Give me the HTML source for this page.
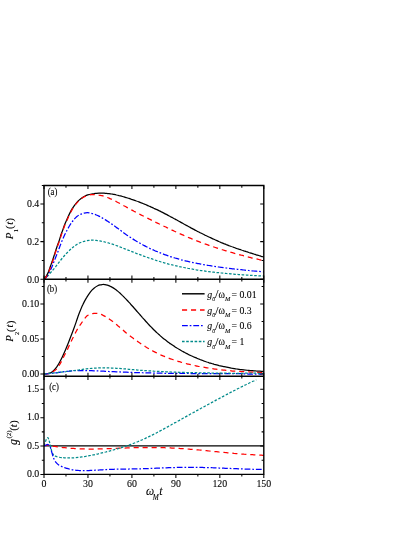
<!DOCTYPE html>
<html><head><meta charset="utf-8"><title>figure</title>
<style>html,body{margin:0;padding:0;background:#fff;}svg{display:block;}text{font-family:"Liberation Serif",serif;fill:#000;stroke:#000;stroke-width:0.1px;}</style></head>
<body><svg width="415" height="537" viewBox="0 0 415 537">
<rect width="415" height="537" fill="#fff"/>
<g style="opacity:0.999">
<defs>
<clipPath id="ca"><rect x="44.0" y="185.5" width="220.4" height="93.7"/></clipPath>
<clipPath id="cb"><rect x="44.0" y="279.2" width="220.4" height="97.1"/></clipPath>
<clipPath id="cc"><rect x="44.0" y="376.3" width="220.4" height="98.1"/></clipPath>
</defs>
<g fill="none" stroke-width="1.25" stroke-linejoin="round">
<path d="M44.0 279.2C44.4 278.9 45.3 278.6 46.4 277.5C47.5 276.4 49.0 274.6 50.6 272.7C52.2 270.8 54.1 268.6 55.9 266.4C57.7 264.2 59.4 261.7 61.2 259.5C63.0 257.3 64.8 255.2 66.5 253.4C68.2 251.6 70.2 249.7 71.5 248.5C72.8 247.3 73.4 246.9 74.5 246.1C75.6 245.3 76.9 244.4 78.1 243.7C79.3 243.0 80.6 242.5 81.8 242.1C83.0 241.7 84.2 241.3 85.4 241.0C86.6 240.7 88.0 240.5 89.0 240.4C90.0 240.3 90.4 240.2 91.2 240.2C92.0 240.2 92.9 240.2 93.7 240.2C94.5 240.3 95.4 240.3 96.2 240.4C97.0 240.5 97.9 240.6 98.7 240.7C99.5 240.9 100.4 241.0 101.2 241.2C102.0 241.3 102.9 241.5 103.7 241.7C104.5 241.9 105.4 242.1 106.2 242.3C107.0 242.5 107.9 242.8 108.7 243.0C109.5 243.3 110.4 243.5 111.2 243.8C112.0 244.1 112.9 244.3 113.7 244.6C114.5 244.9 115.4 245.2 116.2 245.5C117.0 245.8 117.9 246.1 118.7 246.4C119.5 246.8 120.4 247.1 121.2 247.4C122.1 247.7 122.9 248.1 123.7 248.4C124.6 248.7 125.4 249.0 126.2 249.4C127.1 249.7 127.9 250.0 128.7 250.3C129.6 250.7 130.4 251.0 131.2 251.3C132.1 251.6 132.9 252.0 133.7 252.3C134.6 252.6 135.4 252.9 136.2 253.3C137.1 253.6 137.9 253.9 138.7 254.2C139.6 254.5 140.4 254.8 141.2 255.1C142.1 255.5 142.9 255.8 143.7 256.1C144.6 256.4 145.4 256.7 146.2 257.0C147.1 257.3 147.9 257.6 148.7 257.9C149.6 258.2 150.4 258.5 151.2 258.7C152.1 259.0 152.9 259.3 153.7 259.6C154.6 259.9 155.4 260.1 156.2 260.4C157.1 260.7 157.9 260.9 158.7 261.2C159.6 261.4 160.4 261.7 161.2 262.0C162.1 262.2 162.9 262.4 163.7 262.7C164.6 262.9 165.4 263.2 166.2 263.4C167.1 263.6 167.9 263.8 168.7 264.1C169.6 264.3 170.4 264.5 171.2 264.7C172.1 264.9 172.9 265.1 173.7 265.3C174.6 265.5 175.4 265.7 176.2 265.9C177.1 266.1 177.9 266.3 178.8 266.5C179.6 266.6 180.4 266.8 181.3 267.0C182.1 267.2 182.9 267.4 183.8 267.5C184.6 267.7 185.4 267.9 186.3 268.0C187.1 268.2 187.9 268.3 188.8 268.5C189.6 268.6 190.4 268.8 191.3 268.9C192.1 269.1 192.9 269.2 193.8 269.4C194.6 269.5 195.4 269.6 196.3 269.8C197.1 269.9 197.9 270.0 198.8 270.2C199.6 270.3 200.4 270.4 201.3 270.6C202.1 270.7 202.9 270.8 203.8 270.9C204.6 271.0 205.4 271.1 206.3 271.3C207.1 271.4 207.9 271.5 208.8 271.6C209.6 271.7 210.4 271.8 211.3 271.9C212.1 272.0 212.9 272.1 213.8 272.2C214.6 272.3 215.4 272.4 216.3 272.5C217.1 272.6 217.9 272.7 218.8 272.7C219.6 272.8 220.4 272.9 221.3 273.0C222.1 273.1 222.9 273.2 223.8 273.3C224.6 273.3 225.4 273.4 226.3 273.5C227.1 273.6 227.9 273.6 228.8 273.7C229.6 273.8 230.4 273.9 231.3 273.9C232.1 274.0 232.9 274.1 233.8 274.1C234.6 274.2 235.5 274.3 236.3 274.3C237.1 274.4 238.0 274.5 238.8 274.5C239.6 274.6 240.5 274.7 241.3 274.7C242.1 274.8 243.0 274.8 243.8 274.9C244.6 274.9 245.5 275.0 246.3 275.0C247.1 275.1 248.0 275.2 248.8 275.2C249.6 275.3 250.5 275.3 251.3 275.4C252.1 275.4 253.0 275.4 253.8 275.5C254.6 275.5 255.5 275.6 256.3 275.6C257.1 275.7 258.0 275.7 258.8 275.8C259.6 275.8 260.5 275.8 261.3 275.9C262.1 275.9 263.4 276.0 263.8 276.0" stroke="#008b8b" stroke-dasharray="2.6 1.6" clip-path="url(#ca)"/>
<path d="M44.0 279.2C44.4 278.8 45.5 278.2 46.4 277.0C47.3 275.8 48.6 273.3 49.5 271.7C50.4 270.1 51.0 269.0 51.7 267.4C52.4 265.8 53.1 263.9 53.8 262.1C54.5 260.3 55.2 258.6 55.9 256.8C56.6 255.0 57.3 253.3 58.0 251.5C58.7 249.7 59.3 247.9 60.0 246.0C60.7 244.1 61.6 241.9 62.4 240.0C63.2 238.1 64.0 236.3 64.8 234.6C65.6 232.9 66.5 231.3 67.3 229.8C68.1 228.3 68.9 226.8 69.7 225.5C70.5 224.2 71.3 223.0 72.1 221.9C72.9 220.8 73.7 219.8 74.5 218.9C75.3 218.0 76.1 217.2 76.9 216.5C77.7 215.8 78.6 215.3 79.4 214.9C80.2 214.5 81.0 214.1 81.8 213.8C82.6 213.5 83.3 213.3 84.2 213.1C85.1 212.9 86.2 212.7 87.2 212.7C88.2 212.7 89.1 212.9 90.2 213.1C91.3 213.3 92.9 213.7 93.9 214.0C94.9 214.3 95.6 214.6 96.4 215.0C97.2 215.3 98.1 215.7 98.9 216.1C99.7 216.6 100.6 217.0 101.4 217.5C102.2 217.9 103.1 218.4 103.9 218.9C104.7 219.4 105.6 219.9 106.4 220.4C107.2 221.0 108.1 221.5 108.9 222.1C109.7 222.6 110.6 223.2 111.4 223.8C112.2 224.4 113.1 225.0 113.9 225.6C114.7 226.2 115.6 226.8 116.4 227.4C117.2 228.0 118.1 228.6 118.9 229.2C119.7 229.8 120.6 230.5 121.4 231.1C122.2 231.7 123.0 232.3 123.9 232.9C124.7 233.5 125.5 234.1 126.4 234.7C127.2 235.2 128.0 235.8 128.9 236.4C129.7 236.9 130.5 237.5 131.4 238.0C132.2 238.6 133.0 239.1 133.9 239.6C134.7 240.1 135.5 240.7 136.4 241.2C137.2 241.7 138.0 242.1 138.9 242.6C139.7 243.1 140.5 243.6 141.4 244.0C142.2 244.5 143.0 244.9 143.9 245.4C144.7 245.8 145.5 246.3 146.4 246.7C147.2 247.1 148.0 247.5 148.9 247.9C149.7 248.3 150.5 248.7 151.4 249.1C152.2 249.5 153.0 249.9 153.9 250.2C154.7 250.6 155.5 251.0 156.4 251.3C157.2 251.7 158.0 252.0 158.9 252.4C159.7 252.7 160.5 253.0 161.4 253.4C162.2 253.7 163.0 254.0 163.9 254.3C164.7 254.6 165.5 254.9 166.4 255.2C167.2 255.5 168.0 255.8 168.9 256.1C169.7 256.4 170.5 256.6 171.4 256.9C172.2 257.2 173.0 257.4 173.9 257.7C174.7 257.9 175.5 258.2 176.4 258.4C177.2 258.7 178.0 258.9 178.9 259.1C179.7 259.4 180.5 259.6 181.3 259.8C182.2 260.0 183.0 260.2 183.8 260.4C184.7 260.7 185.5 260.9 186.3 261.1C187.2 261.3 188.0 261.5 188.8 261.6C189.7 261.8 190.5 262.0 191.3 262.2C192.2 262.4 193.0 262.6 193.8 262.7C194.7 262.9 195.5 263.1 196.3 263.2C197.2 263.4 198.0 263.6 198.8 263.7C199.7 263.9 200.5 264.0 201.3 264.2C202.2 264.4 203.0 264.5 203.8 264.6C204.7 264.8 205.5 264.9 206.3 265.1C207.2 265.2 208.0 265.4 208.8 265.5C209.7 265.6 210.5 265.8 211.3 265.9C212.2 266.0 213.0 266.1 213.8 266.3C214.7 266.4 215.5 266.5 216.3 266.6C217.2 266.7 218.0 266.9 218.8 267.0C219.7 267.1 220.5 267.2 221.3 267.3C222.2 267.4 223.0 267.5 223.8 267.6C224.7 267.8 225.5 267.9 226.3 268.0C227.2 268.1 228.0 268.2 228.8 268.3C229.7 268.4 230.5 268.5 231.3 268.6C232.2 268.7 233.0 268.8 233.8 268.9C234.7 269.0 235.5 269.1 236.3 269.2C237.1 269.3 238.0 269.4 238.8 269.5C239.6 269.6 240.5 269.7 241.3 269.7C242.1 269.8 243.0 269.9 243.8 270.0C244.6 270.1 245.5 270.2 246.3 270.3C247.1 270.4 248.0 270.4 248.8 270.5C249.6 270.6 250.5 270.7 251.3 270.8C252.1 270.8 253.0 270.9 253.8 271.0C254.6 271.1 255.5 271.1 256.3 271.2C257.1 271.3 258.0 271.4 258.8 271.4C259.6 271.5 260.5 271.6 261.3 271.6C262.1 271.7 263.4 271.8 263.8 271.8" stroke="#0000ff" stroke-dasharray="5.8 1.9 1.7 1.9" clip-path="url(#ca)"/>
<path d="M44.0 279.2C44.4 278.6 45.6 277.1 46.4 275.9C47.1 274.6 47.8 273.4 48.5 271.7C49.2 270.0 49.9 267.8 50.6 265.8C51.3 263.9 52.0 262.1 52.7 260.0C53.4 257.9 54.2 255.3 54.9 253.1C55.6 250.9 56.3 248.7 57.0 246.7C57.7 244.7 58.5 242.7 59.1 240.9C59.7 239.1 60.1 237.7 60.6 236.0C61.1 234.3 61.7 232.9 62.4 231.0C63.1 229.1 64.0 226.4 64.8 224.3C65.6 222.2 66.5 220.4 67.3 218.6C68.1 216.8 68.9 215.0 69.7 213.4C70.5 211.8 71.3 210.2 72.1 208.9C72.9 207.6 73.7 206.4 74.5 205.3C75.3 204.2 76.1 203.2 76.9 202.3C77.7 201.4 78.6 200.6 79.4 199.9C80.2 199.2 81.0 198.5 81.8 197.9C82.6 197.3 83.2 197.0 84.2 196.5C85.2 196.0 86.6 195.3 87.8 194.9C89.0 194.5 90.5 194.2 91.5 194.0C92.5 193.8 93.2 193.7 94.0 193.6C94.8 193.4 95.7 193.4 96.5 193.3C97.3 193.2 98.2 193.1 99.0 193.1C99.8 193.1 100.7 193.1 101.5 193.1C102.3 193.1 103.2 193.1 104.0 193.1C104.8 193.2 105.7 193.3 106.5 193.3C107.3 193.4 108.1 193.5 109.0 193.6C109.8 193.7 110.6 193.8 111.5 194.0C112.3 194.1 113.1 194.3 114.0 194.4C114.8 194.6 115.6 194.8 116.5 195.0C117.3 195.1 118.1 195.3 119.0 195.6C119.8 195.8 120.6 196.0 121.5 196.2C122.3 196.4 123.1 196.7 124.0 196.9C124.8 197.2 125.6 197.4 126.5 197.7C127.3 197.9 128.1 198.2 129.0 198.4C129.8 198.7 130.6 199.0 131.5 199.3C132.3 199.5 133.1 199.8 134.0 200.1C134.8 200.4 135.6 200.7 136.4 201.0C137.3 201.3 138.1 201.6 138.9 201.9C139.8 202.3 140.6 202.6 141.4 202.9C142.3 203.2 143.1 203.6 143.9 203.9C144.8 204.2 145.6 204.6 146.4 204.9C147.3 205.3 148.1 205.6 148.9 206.0C149.8 206.4 150.6 206.7 151.4 207.1C152.3 207.5 153.1 207.9 153.9 208.3C154.8 208.6 155.6 209.0 156.4 209.4C157.3 209.8 158.1 210.2 158.9 210.6C159.8 211.0 160.6 211.5 161.4 211.9C162.3 212.3 163.1 212.7 163.9 213.1C164.7 213.6 165.6 214.0 166.4 214.4C167.2 214.9 168.1 215.3 168.9 215.8C169.7 216.2 170.6 216.7 171.4 217.1C172.2 217.6 173.1 218.0 173.9 218.5C174.7 218.9 175.6 219.4 176.4 219.8C177.2 220.3 178.1 220.8 178.9 221.2C179.7 221.7 180.6 222.1 181.4 222.6C182.2 223.1 183.1 223.5 183.9 224.0C184.7 224.4 185.6 224.9 186.4 225.4C187.2 225.8 188.1 226.3 188.9 226.7C189.7 227.2 190.6 227.6 191.4 228.1C192.2 228.5 193.0 229.0 193.9 229.4C194.7 229.9 195.5 230.3 196.4 230.7C197.2 231.2 198.0 231.6 198.9 232.0C199.7 232.5 200.5 232.9 201.4 233.3C202.2 233.7 203.0 234.1 203.9 234.5C204.7 235.0 205.5 235.4 206.4 235.8C207.2 236.2 208.0 236.6 208.9 237.0C209.7 237.4 210.5 237.7 211.4 238.1C212.2 238.5 213.0 238.9 213.9 239.3C214.7 239.7 215.5 240.0 216.4 240.4C217.2 240.8 218.0 241.1 218.9 241.5C219.7 241.8 220.5 242.2 221.3 242.6C222.2 242.9 223.0 243.2 223.8 243.6C224.7 243.9 225.5 244.3 226.3 244.6C227.2 244.9 228.0 245.2 228.8 245.6C229.7 245.9 230.5 246.2 231.3 246.5C232.2 246.8 233.0 247.1 233.8 247.4C234.7 247.7 235.5 248.0 236.3 248.3C237.2 248.6 238.0 248.9 238.8 249.2C239.7 249.5 240.5 249.8 241.3 250.0C242.2 250.3 243.0 250.6 243.8 250.9C244.7 251.1 245.5 251.4 246.3 251.7C247.2 251.9 248.0 252.2 248.8 252.5C249.6 252.7 250.5 253.0 251.3 253.2C252.1 253.5 253.0 253.7 253.8 254.0C254.6 254.3 255.5 254.5 256.3 254.8C257.1 255.0 258.0 255.3 258.8 255.5C259.6 255.8 260.5 256.0 261.3 256.3C262.1 256.5 263.4 256.9 263.8 257.0" stroke="#000" clip-path="url(#ca)"/>
<path d="M44.0 279.2C44.4 278.7 45.8 277.5 46.6 276.3C47.4 275.1 48.1 273.7 48.8 272.0C49.5 270.3 50.2 268.0 50.9 266.0C51.6 264.0 52.3 262.3 53.0 260.2C53.7 258.1 54.5 255.5 55.2 253.3C55.9 251.1 56.6 248.9 57.3 246.9C58.0 244.9 58.8 242.9 59.4 241.1C60.0 239.3 60.3 237.8 60.9 236.2C61.5 234.5 62.0 233.1 62.7 231.2C63.4 229.3 64.3 226.6 65.1 224.6C65.9 222.6 66.8 220.7 67.6 218.9C68.4 217.1 69.2 215.3 70.0 213.7C70.8 212.1 71.6 210.5 72.4 209.2C73.2 207.8 74.0 206.7 74.8 205.6C75.6 204.5 76.4 203.5 77.2 202.6C78.0 201.7 78.8 200.8 79.6 200.1C80.4 199.4 81.2 198.8 82.0 198.2C82.8 197.6 83.4 197.3 84.4 196.8C85.4 196.3 86.6 195.7 87.8 195.3C89.0 194.9 90.5 194.8 91.5 194.7C92.5 194.6 93.2 194.6 94.0 194.6C94.8 194.6 95.7 194.6 96.5 194.7C97.3 194.8 98.2 194.9 99.0 195.1C99.8 195.2 100.7 195.4 101.5 195.6C102.3 195.8 103.2 196.0 104.0 196.3C104.8 196.6 105.7 196.8 106.5 197.2C107.3 197.5 108.1 197.8 109.0 198.1C109.8 198.5 110.6 198.9 111.5 199.2C112.3 199.6 113.1 200.0 114.0 200.4C114.8 200.8 115.6 201.3 116.5 201.7C117.3 202.1 118.1 202.6 119.0 203.0C119.8 203.5 120.6 203.9 121.5 204.4C122.3 204.8 123.1 205.3 124.0 205.8C124.8 206.2 125.6 206.7 126.5 207.1C127.3 207.6 128.1 208.1 129.0 208.5C129.8 209.0 130.6 209.4 131.5 209.9C132.3 210.3 133.1 210.7 134.0 211.2C134.8 211.6 135.6 212.1 136.4 212.5C137.3 212.9 138.1 213.4 138.9 213.8C139.8 214.2 140.6 214.7 141.4 215.1C142.3 215.5 143.1 215.9 143.9 216.4C144.8 216.8 145.6 217.2 146.4 217.6C147.3 218.1 148.1 218.5 148.9 218.9C149.8 219.3 150.6 219.7 151.4 220.1C152.3 220.6 153.1 221.0 153.9 221.4C154.8 221.8 155.6 222.2 156.4 222.6C157.3 223.0 158.1 223.4 158.9 223.8C159.8 224.2 160.6 224.6 161.4 225.0C162.3 225.4 163.1 225.8 163.9 226.2C164.7 226.6 165.6 227.0 166.4 227.4C167.2 227.8 168.1 228.2 168.9 228.6C169.7 229.0 170.6 229.4 171.4 229.8C172.2 230.2 173.1 230.6 173.9 231.0C174.7 231.4 175.6 231.8 176.4 232.1C177.2 232.5 178.1 232.9 178.9 233.3C179.7 233.7 180.6 234.0 181.4 234.4C182.2 234.8 183.1 235.1 183.9 235.5C184.7 235.9 185.6 236.2 186.4 236.6C187.2 237.0 188.1 237.3 188.9 237.7C189.7 238.0 190.6 238.4 191.4 238.7C192.2 239.0 193.0 239.4 193.9 239.7C194.7 240.1 195.5 240.4 196.4 240.7C197.2 241.0 198.0 241.4 198.9 241.7C199.7 242.0 200.5 242.3 201.4 242.6C202.2 242.9 203.0 243.2 203.9 243.5C204.7 243.8 205.5 244.1 206.4 244.4C207.2 244.7 208.0 245.0 208.9 245.3C209.7 245.6 210.5 245.9 211.4 246.2C212.2 246.5 213.0 246.7 213.9 247.0C214.7 247.3 215.5 247.6 216.4 247.8C217.2 248.1 218.0 248.4 218.9 248.6C219.7 248.9 220.5 249.2 221.3 249.4C222.2 249.7 223.0 249.9 223.8 250.2C224.7 250.4 225.5 250.7 226.3 250.9C227.2 251.2 228.0 251.4 228.8 251.7C229.7 251.9 230.5 252.2 231.3 252.4C232.2 252.7 233.0 252.9 233.8 253.1C234.7 253.4 235.5 253.6 236.3 253.8C237.2 254.1 238.0 254.3 238.8 254.5C239.7 254.7 240.5 255.0 241.3 255.2C242.2 255.4 243.0 255.6 243.8 255.9C244.7 256.1 245.5 256.3 246.3 256.5C247.2 256.7 248.0 256.9 248.8 257.1C249.6 257.3 250.5 257.6 251.3 257.8C252.1 258.0 253.0 258.2 253.8 258.4C254.6 258.6 255.5 258.7 256.3 258.9C257.1 259.1 258.0 259.3 258.8 259.5C259.6 259.7 260.5 259.9 261.3 260.1C262.1 260.2 263.4 260.5 263.8 260.6" stroke="#ff0000" stroke-dasharray="5.1 3.9" clip-path="url(#ca)"/>
<path d="M44.0 373.9C44.7 373.8 46.8 373.8 48.0 373.6C49.2 373.4 50.2 373.1 51.2 372.5C52.2 371.9 53.1 371.2 54.0 370.3C54.9 369.4 55.9 368.2 56.8 366.9C57.7 365.5 58.7 363.9 59.6 362.2C60.5 360.5 61.4 358.8 62.3 356.9C63.2 355.0 64.2 352.8 65.1 350.7C66.0 348.6 67.0 346.3 67.9 344.0C68.8 341.7 69.8 339.2 70.7 336.8C71.6 334.4 72.6 332.0 73.5 329.5C74.4 327.0 75.4 324.2 76.3 321.6C77.2 319.0 78.0 316.4 79.1 313.6C80.2 310.8 81.5 307.5 82.8 304.8C84.0 302.1 85.3 299.7 86.6 297.6C87.8 295.5 89.1 293.6 90.3 292.0C91.5 290.4 92.8 289.2 94.0 288.2C95.2 287.2 96.7 286.3 97.7 285.8C98.7 285.3 99.2 285.1 100.0 284.9C100.8 284.7 101.7 284.6 102.5 284.5C103.3 284.4 104.1 284.5 105.0 284.6C105.8 284.7 106.6 284.9 107.4 285.1C108.3 285.4 109.1 285.7 109.9 286.1C110.8 286.4 111.6 286.9 112.4 287.4C113.2 287.8 114.1 288.4 114.9 289.0C115.7 289.6 116.5 290.2 117.4 290.9C118.2 291.6 119.0 292.3 119.9 293.0C120.7 293.8 121.5 294.6 122.3 295.4C123.2 296.2 124.0 297.0 124.8 297.9C125.6 298.7 126.5 299.6 127.3 300.5C128.1 301.4 129.0 302.3 129.8 303.2C130.6 304.1 131.4 305.1 132.3 306.0C133.1 306.9 133.9 307.8 134.7 308.8C135.6 309.7 136.4 310.7 137.2 311.6C138.1 312.6 138.9 313.5 139.7 314.4C140.5 315.4 141.4 316.3 142.2 317.3C143.0 318.2 143.8 319.1 144.7 320.0C145.5 321.0 146.3 321.9 147.2 322.8C148.0 323.7 148.8 324.6 149.6 325.5C150.5 326.3 151.3 327.2 152.1 328.0C152.9 328.9 153.8 329.7 154.6 330.5C155.4 331.3 156.3 332.1 157.1 332.9C157.9 333.6 158.7 334.4 159.6 335.1C160.4 335.9 161.2 336.6 162.0 337.3C162.9 338.0 163.7 338.6 164.5 339.3C165.4 340.0 166.2 340.6 167.0 341.2C167.8 341.8 168.7 342.5 169.5 343.1C170.3 343.6 171.1 344.2 172.0 344.8C172.8 345.4 173.6 345.9 174.5 346.4C175.3 347.0 176.1 347.5 176.9 348.0C177.8 348.5 178.6 349.0 179.4 349.5C180.2 350.0 181.1 350.5 181.9 351.0C182.7 351.4 183.6 351.9 184.4 352.3C185.2 352.8 186.0 353.2 186.9 353.6C187.7 354.0 188.5 354.5 189.3 354.9C190.2 355.3 191.0 355.7 191.8 356.0C192.7 356.4 193.5 356.8 194.3 357.2C195.1 357.5 196.0 357.9 196.8 358.2C197.6 358.6 198.4 358.9 199.3 359.2C200.1 359.6 200.9 359.9 201.8 360.2C202.6 360.5 203.4 360.8 204.2 361.1C205.1 361.4 205.9 361.7 206.7 362.0C207.5 362.2 208.4 362.5 209.2 362.8C210.0 363.0 210.9 363.3 211.7 363.5C212.5 363.8 213.3 364.0 214.2 364.3C215.0 364.5 215.8 364.7 216.6 364.9C217.5 365.2 218.3 365.4 219.1 365.6C220.0 365.8 220.8 366.0 221.6 366.2C222.4 366.4 223.3 366.5 224.1 366.7C224.9 366.9 225.7 367.1 226.6 367.2C227.4 367.4 228.2 367.6 229.1 367.7C229.9 367.9 230.7 368.0 231.5 368.2C232.4 368.3 233.2 368.5 234.0 368.6C234.8 368.7 235.7 368.8 236.5 369.0C237.3 369.1 238.2 369.2 239.0 369.3C239.8 369.4 240.6 369.5 241.5 369.6C242.3 369.7 243.1 369.8 243.9 369.9C244.8 370.0 245.6 370.1 246.4 370.2C247.3 370.2 248.1 370.3 248.9 370.4C249.7 370.5 250.6 370.5 251.4 370.6C252.2 370.7 253.0 370.7 253.9 370.8C254.7 370.9 255.5 370.9 256.4 371.0C257.2 371.0 258.0 371.1 258.8 371.1C259.7 371.2 260.5 371.2 261.3 371.3C262.1 371.3 263.4 371.4 263.8 371.4" stroke="#000" clip-path="url(#cb)"/>
<path d="M44.0 373.9C44.7 373.9 46.8 373.9 48.0 373.7C49.2 373.5 50.2 373.2 51.2 372.8C52.2 372.4 53.1 371.8 54.0 371.1C54.9 370.4 55.9 369.9 56.8 368.8C57.7 367.7 58.7 366.2 59.6 364.7C60.5 363.2 61.4 361.5 62.3 359.7C63.2 357.9 64.2 356.0 65.1 354.1C66.0 352.2 67.0 350.5 67.9 348.5C68.8 346.5 69.8 344.2 70.7 342.3C71.6 340.4 72.6 338.7 73.5 336.8C74.4 334.9 75.4 332.9 76.3 331.2C77.2 329.5 78.3 327.8 79.1 326.5C79.9 325.2 80.6 324.4 81.3 323.4C82.0 322.4 82.6 321.6 83.5 320.4C84.4 319.2 85.5 317.2 86.6 316.2C87.7 315.2 89.1 314.8 90.3 314.3C91.5 313.8 92.8 313.6 94.0 313.4C95.2 313.2 96.7 313.3 97.7 313.4C98.7 313.5 99.4 313.8 100.2 314.1C101.1 314.4 101.9 314.7 102.7 315.1C103.6 315.5 104.4 315.9 105.2 316.4C106.1 316.9 106.9 317.4 107.8 318.0C108.6 318.5 109.4 319.1 110.3 319.7C111.1 320.3 112.0 320.9 112.8 321.6C113.6 322.2 114.5 322.9 115.3 323.6C116.2 324.3 117.0 325.0 117.8 325.7C118.7 326.4 119.5 327.1 120.4 327.9C121.2 328.6 122.0 329.3 122.9 330.0C123.7 330.7 124.5 331.5 125.4 332.2C126.2 332.9 127.1 333.5 127.9 334.2C128.7 334.9 129.6 335.6 130.4 336.2C131.3 336.9 132.1 337.5 132.9 338.1C133.8 338.8 134.6 339.4 135.5 340.0C136.3 340.6 137.1 341.2 138.0 341.8C138.8 342.4 139.6 342.9 140.5 343.5C141.3 344.1 142.2 344.6 143.0 345.2C143.8 345.7 144.7 346.2 145.5 346.7C146.4 347.2 147.2 347.8 148.0 348.2C148.9 348.7 149.7 349.2 150.6 349.7C151.4 350.1 152.2 350.6 153.1 351.1C153.9 351.5 154.7 351.9 155.6 352.4C156.4 352.8 157.3 353.2 158.1 353.6C158.9 354.0 159.8 354.4 160.6 354.8C161.5 355.1 162.3 355.5 163.1 355.9C164.0 356.2 164.8 356.6 165.7 356.9C166.5 357.2 167.3 357.6 168.2 357.9C169.0 358.2 169.8 358.5 170.7 358.8C171.5 359.1 172.4 359.4 173.2 359.7C174.0 360.0 174.9 360.3 175.7 360.6C176.6 360.8 177.4 361.1 178.2 361.3C179.1 361.6 179.9 361.8 180.8 362.1C181.6 362.3 182.4 362.6 183.3 362.8C184.1 363.0 184.9 363.2 185.8 363.5C186.6 363.7 187.5 363.9 188.3 364.1C189.1 364.3 190.0 364.5 190.8 364.7C191.7 364.9 192.5 365.1 193.3 365.2C194.2 365.4 195.0 365.6 195.9 365.8C196.7 366.0 197.5 366.1 198.4 366.3C199.2 366.4 200.0 366.6 200.9 366.8C201.7 366.9 202.6 367.1 203.4 367.2C204.2 367.3 205.1 367.5 205.9 367.6C206.8 367.8 207.6 367.9 208.4 368.0C209.3 368.2 210.1 368.3 211.0 368.4C211.8 368.5 212.6 368.7 213.5 368.8C214.3 368.9 215.1 369.0 216.0 369.1C216.8 369.2 217.7 369.4 218.5 369.5C219.3 369.6 220.2 369.7 221.0 369.8C221.9 369.9 222.7 370.0 223.5 370.1C224.4 370.2 225.2 370.2 226.1 370.3C226.9 370.4 227.7 370.5 228.6 370.6C229.4 370.7 230.2 370.7 231.1 370.8C231.9 370.9 232.8 371.0 233.6 371.0C234.4 371.1 235.3 371.2 236.1 371.2C237.0 371.3 237.8 371.3 238.6 371.4C239.5 371.4 240.3 371.5 241.2 371.5C242.0 371.6 242.8 371.6 243.7 371.7C244.5 371.7 245.3 371.8 246.2 371.8C247.0 371.8 247.9 371.9 248.7 371.9C249.5 372.0 250.4 372.0 251.2 372.0C252.1 372.1 252.9 372.1 253.7 372.2C254.6 372.2 255.4 372.2 256.2 372.3C257.1 372.3 257.9 372.4 258.8 372.4C259.6 372.5 260.4 372.5 261.3 372.6C262.1 372.6 263.4 372.7 263.8 372.7" stroke="#ff0000" stroke-dasharray="5.1 3.9" clip-path="url(#cb)"/>
<path d="M44.0 373.9C44.4 373.9 45.7 373.9 46.5 373.8C47.3 373.8 48.2 373.7 49.0 373.7C49.8 373.6 50.7 373.5 51.5 373.4C52.3 373.3 53.2 373.2 54.0 373.1C54.8 373.0 55.7 372.9 56.5 372.8C57.3 372.6 58.2 372.5 59.0 372.4C59.8 372.3 60.7 372.1 61.5 372.0C62.3 371.9 63.1 371.8 64.0 371.7C64.8 371.6 65.6 371.4 66.5 371.3C67.3 371.2 68.1 371.1 69.0 371.1C69.8 371.0 70.6 370.9 71.5 370.8C72.3 370.8 73.1 370.7 74.0 370.7C74.8 370.6 75.6 370.6 76.5 370.6C77.3 370.5 78.1 370.5 79.0 370.5C79.8 370.5 80.6 370.5 81.5 370.5C82.3 370.5 83.1 370.5 84.0 370.5C84.8 370.5 85.6 370.5 86.5 370.5C87.3 370.6 88.1 370.6 89.0 370.6C89.8 370.6 90.6 370.7 91.5 370.7C92.3 370.7 93.1 370.7 94.0 370.8C94.8 370.8 95.6 370.8 96.5 370.9C97.3 370.9 98.1 371.0 99.0 371.0C99.8 371.0 100.6 371.1 101.4 371.1C102.3 371.2 103.1 371.2 103.9 371.2C104.8 371.3 105.6 371.3 106.4 371.4C107.3 371.4 108.1 371.4 108.9 371.5C109.8 371.5 110.6 371.6 111.4 371.6C112.3 371.6 113.1 371.7 113.9 371.7C114.8 371.8 115.6 371.8 116.4 371.8C117.3 371.9 118.1 371.9 118.9 371.9C119.8 372.0 120.6 372.0 121.4 372.1C122.3 372.1 123.1 372.1 123.9 372.1C124.8 372.2 125.6 372.2 126.4 372.2C127.3 372.3 128.1 372.3 128.9 372.3C129.8 372.4 130.6 372.4 131.4 372.4C132.3 372.4 133.1 372.5 133.9 372.5C134.8 372.5 135.6 372.5 136.4 372.6C137.2 372.6 138.1 372.6 138.9 372.6C139.7 372.7 140.6 372.7 141.4 372.7C142.2 372.7 143.1 372.8 143.9 372.8C144.7 372.8 145.6 372.8 146.4 372.9C147.2 372.9 148.1 372.9 148.9 372.9C149.7 373.0 150.6 373.0 151.4 373.0C152.2 373.0 153.1 373.0 153.9 373.1C154.7 373.1 155.6 373.1 156.4 373.1C157.2 373.1 158.1 373.2 158.9 373.2C159.7 373.2 160.6 373.2 161.4 373.2C162.2 373.2 163.1 373.3 163.9 373.3C164.7 373.3 165.6 373.3 166.4 373.3C167.2 373.3 168.1 373.3 168.9 373.3C169.7 373.3 170.6 373.3 171.4 373.4C172.2 373.4 173.0 373.4 173.9 373.4C174.7 373.4 175.5 373.4 176.4 373.4C177.2 373.4 178.0 373.4 178.9 373.4C179.7 373.4 180.5 373.4 181.4 373.4C182.2 373.4 183.0 373.4 183.9 373.4C184.7 373.4 185.5 373.4 186.4 373.4C187.2 373.4 188.0 373.4 188.9 373.5C189.7 373.5 190.5 373.5 191.4 373.5C192.2 373.5 193.0 373.5 193.9 373.5C194.7 373.5 195.5 373.5 196.4 373.5C197.2 373.6 198.0 373.6 198.9 373.6C199.7 373.6 200.5 373.6 201.4 373.6C202.2 373.6 203.0 373.6 203.9 373.7C204.7 373.7 205.5 373.7 206.4 373.7C207.2 373.7 208.0 373.7 208.9 373.7C209.7 373.7 210.5 373.7 211.3 373.7C212.2 373.7 213.0 373.7 213.8 373.7C214.7 373.7 215.5 373.7 216.3 373.7C217.2 373.7 218.0 373.7 218.8 373.7C219.7 373.7 220.5 373.7 221.3 373.7C222.2 373.7 223.0 373.7 223.8 373.7C224.7 373.6 225.5 373.6 226.3 373.6C227.2 373.6 228.0 373.6 228.8 373.6C229.7 373.6 230.5 373.6 231.3 373.6C232.2 373.6 233.0 373.6 233.8 373.6C234.7 373.6 235.5 373.6 236.3 373.6C237.2 373.6 238.0 373.7 238.8 373.7C239.7 373.7 240.5 373.7 241.3 373.7C242.2 373.8 243.0 373.8 243.8 373.8C244.7 373.9 245.5 373.9 246.3 373.9C247.1 374.0 248.0 374.0 248.8 374.0C249.6 374.0 250.5 374.1 251.3 374.1C252.1 374.1 253.0 374.1 253.8 374.1C254.6 374.1 255.5 374.1 256.3 374.1C257.1 374.1 258.0 374.1 258.8 374.1C259.6 374.1 260.5 374.0 261.3 374.0C262.1 373.9 263.4 373.8 263.8 373.8" stroke="#0000ff" stroke-dasharray="5.8 1.9 1.7 1.9" clip-path="url(#cb)"/>
<path d="M44.0 373.9C44.4 373.9 45.7 373.7 46.5 373.7C47.3 373.6 48.2 373.5 49.0 373.4C49.8 373.3 50.7 373.2 51.5 373.2C52.3 373.1 53.2 373.0 54.0 372.9C54.8 372.8 55.7 372.8 56.5 372.7C57.3 372.6 58.2 372.5 59.0 372.4C59.8 372.3 60.7 372.2 61.5 372.1C62.3 372.0 63.1 371.9 64.0 371.9C64.8 371.8 65.6 371.7 66.5 371.5C67.3 371.4 68.1 371.3 69.0 371.2C69.8 371.1 70.6 371.0 71.5 370.9C72.3 370.8 73.1 370.7 74.0 370.5C74.8 370.4 75.6 370.3 76.5 370.2C77.3 370.1 78.1 369.9 79.0 369.8C79.8 369.7 80.6 369.6 81.5 369.5C82.3 369.4 83.1 369.2 84.0 369.1C84.8 369.0 85.6 368.9 86.5 368.8C87.3 368.7 88.1 368.6 89.0 368.6C89.8 368.5 90.6 368.4 91.5 368.3C92.3 368.3 93.1 368.2 94.0 368.1C94.8 368.1 95.6 368.0 96.5 368.0C97.3 368.0 98.1 367.9 99.0 367.9C99.8 367.9 100.6 367.9 101.4 367.8C102.3 367.8 103.1 367.8 103.9 367.8C104.8 367.8 105.6 367.8 106.4 367.9C107.3 367.9 108.1 367.9 108.9 367.9C109.8 367.9 110.6 368.0 111.4 368.0C112.3 368.0 113.1 368.1 113.9 368.1C114.8 368.2 115.6 368.2 116.4 368.3C117.3 368.3 118.1 368.4 118.9 368.4C119.8 368.5 120.6 368.6 121.4 368.6C122.3 368.7 123.1 368.8 123.9 368.8C124.8 368.9 125.6 369.0 126.4 369.0C127.3 369.1 128.1 369.2 128.9 369.3C129.8 369.3 130.6 369.4 131.4 369.5C132.3 369.6 133.1 369.6 133.9 369.7C134.8 369.8 135.6 369.9 136.4 369.9C137.2 370.0 138.1 370.1 138.9 370.2C139.7 370.2 140.6 370.3 141.4 370.4C142.2 370.4 143.1 370.5 143.9 370.6C144.7 370.6 145.6 370.7 146.4 370.7C147.2 370.8 148.1 370.8 148.9 370.9C149.7 370.9 150.6 371.0 151.4 371.0C152.2 371.1 153.1 371.1 153.9 371.2C154.7 371.2 155.6 371.3 156.4 371.3C157.2 371.3 158.1 371.4 158.9 371.4C159.7 371.5 160.6 371.5 161.4 371.5C162.2 371.6 163.1 371.6 163.9 371.7C164.7 371.7 165.6 371.7 166.4 371.8C167.2 371.8 168.1 371.8 168.9 371.9C169.7 371.9 170.6 371.9 171.4 372.0C172.2 372.0 173.0 372.0 173.9 372.1C174.7 372.1 175.5 372.1 176.4 372.2C177.2 372.2 178.0 372.2 178.9 372.3C179.7 372.3 180.5 372.3 181.4 372.4C182.2 372.4 183.0 372.4 183.9 372.4C184.7 372.5 185.5 372.5 186.4 372.5C187.2 372.5 188.0 372.6 188.9 372.6C189.7 372.6 190.5 372.6 191.4 372.6C192.2 372.7 193.0 372.7 193.9 372.7C194.7 372.7 195.5 372.7 196.4 372.7C197.2 372.8 198.0 372.8 198.9 372.8C199.7 372.8 200.5 372.8 201.4 372.8C202.2 372.8 203.0 372.8 203.9 372.9C204.7 372.9 205.5 372.9 206.4 372.9C207.2 372.9 208.0 372.9 208.9 372.9C209.7 372.9 210.5 372.9 211.3 373.0C212.2 373.0 213.0 373.0 213.8 373.0C214.7 373.0 215.5 373.0 216.3 373.0C217.2 373.1 218.0 373.1 218.8 373.1C219.7 373.1 220.5 373.1 221.3 373.1C222.2 373.1 223.0 373.2 223.8 373.2C224.7 373.2 225.5 373.2 226.3 373.2C227.2 373.2 228.0 373.2 228.8 373.2C229.7 373.3 230.5 373.3 231.3 373.3C232.2 373.3 233.0 373.3 233.8 373.3C234.7 373.3 235.5 373.3 236.3 373.3C237.2 373.3 238.0 373.3 238.8 373.3C239.7 373.3 240.5 373.3 241.3 373.3C242.2 373.3 243.0 373.3 243.8 373.3C244.7 373.3 245.5 373.2 246.3 373.2C247.1 373.2 248.0 373.2 248.8 373.2C249.6 373.2 250.5 373.2 251.3 373.2C252.1 373.2 253.0 373.2 253.8 373.2C254.6 373.2 255.5 373.2 256.3 373.2C257.1 373.2 258.0 373.3 258.8 373.3C259.6 373.3 260.5 373.3 261.3 373.4C262.1 373.4 263.4 373.5 263.8 373.5" stroke="#008b8b" stroke-dasharray="2.6 1.6" clip-path="url(#cb)"/>
<path d="M44.0 445.9L263.8 445.9" stroke="#000" clip-path="url(#cc)"/>
<path d="M44.0 445.8C44.2 445.7 44.9 445.5 45.5 445.4C46.1 445.3 47.0 445.0 47.7 445.0C48.5 445.0 49.2 445.4 50.0 445.6C50.8 445.8 51.7 445.9 52.5 446.0C53.3 446.2 54.1 446.3 55.0 446.4C55.8 446.6 56.6 446.7 57.5 446.8C58.3 446.9 59.1 447.0 59.9 447.1C60.8 447.3 61.6 447.4 62.4 447.5C63.3 447.5 64.1 447.6 64.9 447.7C65.7 447.8 66.6 447.9 67.4 448.0C68.2 448.0 69.1 448.1 69.9 448.2C70.7 448.3 71.5 448.3 72.4 448.4C73.2 448.4 74.0 448.5 74.9 448.5C75.7 448.6 76.5 448.6 77.3 448.7C78.2 448.7 79.0 448.7 79.8 448.8C80.7 448.8 81.5 448.8 82.3 448.9C83.1 448.9 84.0 448.9 84.8 448.9C85.6 448.9 86.5 449.0 87.3 449.0C88.1 449.0 88.9 449.0 89.8 449.0C90.6 449.0 91.4 449.0 92.3 449.0C93.1 449.0 93.9 449.0 94.7 449.0C95.6 449.0 96.4 449.0 97.2 449.0C98.1 448.9 98.9 448.9 99.7 448.9C100.5 448.9 101.4 448.9 102.2 448.9C103.0 448.8 103.9 448.8 104.7 448.8C105.5 448.8 106.4 448.7 107.2 448.7C108.0 448.7 108.8 448.7 109.7 448.6C110.5 448.6 111.3 448.6 112.2 448.5C113.0 448.5 113.8 448.5 114.6 448.4C115.5 448.4 116.3 448.4 117.1 448.3C118.0 448.3 118.8 448.3 119.6 448.2C120.4 448.2 121.3 448.2 122.1 448.1C122.9 448.1 123.8 448.1 124.6 448.0C125.4 448.0 126.2 448.0 127.1 447.9C127.9 447.9 128.7 447.9 129.6 447.9C130.4 447.8 131.2 447.8 132.0 447.8C132.9 447.7 133.7 447.7 134.5 447.7C135.4 447.7 136.2 447.7 137.0 447.6C137.8 447.6 138.7 447.6 139.5 447.6C140.3 447.6 141.2 447.6 142.0 447.5C142.8 447.5 143.6 447.5 144.5 447.5C145.3 447.5 146.1 447.5 147.0 447.5C147.8 447.5 148.6 447.5 149.4 447.5C150.3 447.5 151.1 447.5 151.9 447.5C152.8 447.5 153.6 447.5 154.4 447.5C155.2 447.5 156.1 447.5 156.9 447.6C157.7 447.6 158.6 447.6 159.4 447.6C160.2 447.6 161.0 447.6 161.9 447.7C162.7 447.7 163.5 447.7 164.4 447.7C165.2 447.8 166.0 447.8 166.8 447.8C167.7 447.8 168.5 447.9 169.3 447.9C170.2 447.9 171.0 448.0 171.8 448.0C172.6 448.1 173.5 448.1 174.3 448.1C175.1 448.2 176.0 448.2 176.8 448.3C177.6 448.3 178.4 448.4 179.3 448.4C180.1 448.5 180.9 448.5 181.8 448.6C182.6 448.6 183.4 448.7 184.2 448.8C185.1 448.8 185.9 448.9 186.7 448.9C187.6 449.0 188.4 449.1 189.2 449.1C190.0 449.2 190.9 449.3 191.7 449.3C192.5 449.4 193.4 449.5 194.2 449.6C195.0 449.6 195.8 449.7 196.7 449.8C197.5 449.9 198.3 449.9 199.2 450.0C200.0 450.1 200.8 450.2 201.6 450.2C202.5 450.3 203.3 450.4 204.1 450.5C205.0 450.6 205.8 450.6 206.6 450.7C207.4 450.8 208.3 450.9 209.1 451.0C209.9 451.1 210.8 451.1 211.6 451.2C212.4 451.3 213.3 451.4 214.1 451.5C214.9 451.5 215.7 451.6 216.6 451.7C217.4 451.8 218.2 451.9 219.1 452.0C219.9 452.0 220.7 452.1 221.5 452.2C222.4 452.3 223.2 452.4 224.0 452.4C224.9 452.5 225.7 452.6 226.5 452.7C227.3 452.8 228.2 452.8 229.0 452.9C229.8 453.0 230.7 453.1 231.5 453.1C232.3 453.2 233.1 453.3 234.0 453.4C234.8 453.4 235.6 453.5 236.5 453.6C237.3 453.6 238.1 453.7 238.9 453.8C239.8 453.8 240.6 453.9 241.4 454.0C242.3 454.0 243.1 454.1 243.9 454.2C244.7 454.2 245.6 454.3 246.4 454.4C247.2 454.4 248.1 454.5 248.9 454.5C249.7 454.6 250.5 454.6 251.4 454.7C252.2 454.7 253.0 454.8 253.9 454.8C254.7 454.9 255.5 454.9 256.3 455.0C257.2 455.0 258.0 455.1 258.8 455.1C259.7 455.1 260.5 455.2 261.3 455.2C262.1 455.2 263.4 455.3 263.8 455.3" stroke="#ff0000" stroke-dasharray="5.1 3.9" clip-path="url(#cc)"/>
<path d="M44.0 445.8C44.1 445.5 44.2 444.9 44.4 444.2C44.6 443.5 45.0 442.7 45.4 441.8C45.8 440.9 46.1 439.7 46.5 439.0C46.9 438.3 47.4 437.6 47.7 437.6C48.1 437.6 48.3 438.3 48.6 439.0C48.9 439.7 49.2 440.8 49.5 442.0C49.8 443.2 50.1 444.5 50.5 446.0C50.9 447.5 51.1 449.4 51.6 450.8C52.1 452.2 52.7 453.8 53.3 454.7C53.9 455.6 54.1 455.7 55.3 456.2C56.5 456.7 59.2 457.2 60.5 457.5C61.8 457.8 62.2 457.7 63.0 457.7C63.8 457.8 64.7 457.9 65.5 457.9C66.4 457.9 67.2 457.9 68.0 457.9C68.9 458.0 69.7 457.9 70.5 457.9C71.4 457.9 72.2 457.9 73.1 457.8C73.9 457.8 74.7 457.7 75.6 457.7C76.4 457.6 77.2 457.5 78.1 457.4C78.9 457.3 79.7 457.2 80.6 457.1C81.4 457.0 82.3 456.9 83.1 456.8C83.9 456.7 84.8 456.5 85.6 456.4C86.4 456.2 87.3 456.1 88.1 455.9C88.9 455.8 89.8 455.6 90.6 455.5C91.5 455.3 92.3 455.1 93.1 454.9C94.0 454.8 94.8 454.6 95.6 454.4C96.5 454.2 97.3 454.0 98.2 453.8C99.0 453.6 99.8 453.4 100.7 453.2C101.5 453.0 102.3 452.8 103.2 452.6C104.0 452.4 104.8 452.2 105.7 452.0C106.5 451.8 107.4 451.6 108.2 451.4C109.0 451.2 109.9 450.9 110.7 450.7C111.5 450.5 112.4 450.3 113.2 450.0C114.1 449.8 114.9 449.6 115.7 449.3C116.6 449.1 117.4 448.8 118.2 448.6C119.1 448.3 119.9 448.1 120.7 447.8C121.6 447.6 122.4 447.3 123.3 447.0C124.1 446.8 124.9 446.5 125.8 446.2C126.6 445.9 127.4 445.6 128.3 445.3C129.1 445.0 130.0 444.7 130.8 444.4C131.6 444.1 132.5 443.8 133.3 443.5C134.1 443.2 135.0 442.8 135.8 442.5C136.6 442.2 137.5 441.8 138.3 441.5C139.2 441.1 140.0 440.8 140.8 440.4C141.7 440.0 142.5 439.7 143.3 439.3C144.2 438.9 145.0 438.5 145.8 438.1C146.7 437.7 147.5 437.3 148.4 436.9C149.2 436.5 150.0 436.1 150.9 435.7C151.7 435.3 152.5 434.9 153.4 434.4C154.2 434.0 155.1 433.6 155.9 433.2C156.7 432.7 157.6 432.3 158.4 431.8C159.2 431.4 160.1 431.0 160.9 430.5C161.7 430.1 162.6 429.6 163.4 429.2C164.3 428.7 165.1 428.2 165.9 427.8C166.8 427.3 167.6 426.9 168.4 426.4C169.3 425.9 170.1 425.5 171.0 425.0C171.8 424.5 172.6 424.1 173.5 423.6C174.3 423.1 175.1 422.7 176.0 422.2C176.8 421.7 177.6 421.3 178.5 420.8C179.3 420.3 180.2 419.9 181.0 419.4C181.8 418.9 182.7 418.5 183.5 418.0C184.3 417.5 185.2 417.1 186.0 416.6C186.8 416.2 187.7 415.7 188.5 415.2C189.4 414.8 190.2 414.3 191.0 413.8C191.9 413.4 192.7 412.9 193.5 412.5C194.4 412.0 195.2 411.5 196.1 411.1C196.9 410.6 197.7 410.2 198.6 409.7C199.4 409.2 200.2 408.8 201.1 408.3C201.9 407.9 202.7 407.4 203.6 406.9C204.4 406.5 205.3 406.0 206.1 405.6C206.9 405.1 207.8 404.7 208.6 404.2C209.4 403.8 210.3 403.3 211.1 402.9C212.0 402.4 212.8 401.9 213.6 401.5C214.5 401.0 215.3 400.6 216.1 400.1C217.0 399.7 217.8 399.2 218.6 398.8C219.5 398.3 220.3 397.9 221.2 397.4C222.0 397.0 222.8 396.6 223.7 396.1C224.5 395.7 225.3 395.2 226.2 394.8C227.0 394.3 227.9 393.9 228.7 393.5C229.5 393.0 230.4 392.6 231.2 392.1C232.0 391.7 232.9 391.3 233.7 390.8C234.5 390.4 235.4 390.0 236.2 389.5C237.1 389.1 237.9 388.7 238.7 388.3C239.6 387.8 240.4 387.4 241.2 387.0C242.1 386.6 242.9 386.2 243.7 385.8C244.6 385.3 245.4 384.9 246.3 384.5C247.1 384.1 247.9 383.7 248.8 383.3C249.6 382.9 250.4 382.5 251.3 382.1C252.1 381.7 253.0 381.3 253.8 381.0C254.6 380.6 255.9 380.0 256.3 379.8" stroke="#008b8b" stroke-dasharray="2.6 1.6" clip-path="url(#cc)"/>
<path d="M44.0 445.8C44.2 445.7 44.9 445.5 45.5 445.3C46.1 445.1 47.0 444.4 47.7 444.5C48.4 444.6 49.1 445.0 49.7 446.0C50.3 447.0 50.8 449.0 51.3 450.6C51.8 452.2 52.3 454.2 52.8 455.7C53.3 457.2 53.7 458.6 54.3 459.8C54.9 461.0 55.7 462.1 56.4 462.9C57.1 463.7 57.5 464.1 58.4 464.7C59.2 465.3 60.6 465.9 61.5 466.4C62.4 466.9 63.2 467.1 64.0 467.4C64.8 467.7 65.7 468.0 66.5 468.3C67.3 468.5 68.2 468.7 69.0 469.0C69.8 469.2 70.7 469.3 71.5 469.5C72.3 469.7 73.2 469.8 74.0 469.9C74.8 470.1 75.7 470.2 76.5 470.3C77.3 470.4 78.2 470.4 79.0 470.5C79.8 470.5 80.6 470.6 81.5 470.6C82.3 470.6 83.1 470.6 84.0 470.7C84.8 470.7 85.6 470.6 86.5 470.6C87.3 470.6 88.1 470.6 89.0 470.6C89.8 470.5 90.6 470.5 91.5 470.4C92.3 470.4 93.1 470.4 94.0 470.3C94.8 470.2 95.6 470.2 96.5 470.1C97.3 470.1 98.1 470.0 99.0 470.0C99.8 469.9 100.6 469.9 101.5 469.8C102.3 469.8 103.1 469.7 104.0 469.7C104.8 469.6 105.6 469.6 106.5 469.5C107.3 469.5 108.1 469.5 109.0 469.4C109.8 469.4 110.6 469.4 111.5 469.3C112.3 469.3 113.1 469.3 113.9 469.3C114.8 469.2 115.6 469.2 116.4 469.2C117.3 469.2 118.1 469.2 118.9 469.2C119.8 469.1 120.6 469.1 121.4 469.1C122.3 469.1 123.1 469.1 123.9 469.1C124.8 469.0 125.6 469.0 126.4 469.0C127.3 469.0 128.1 469.0 128.9 469.0C129.8 469.0 130.6 469.0 131.4 468.9C132.3 468.9 133.1 468.9 133.9 468.9C134.8 468.9 135.6 468.9 136.4 468.9C137.3 468.9 138.1 468.8 138.9 468.8C139.8 468.8 140.6 468.8 141.4 468.8C142.3 468.7 143.1 468.7 143.9 468.7C144.8 468.7 145.6 468.6 146.4 468.6C147.2 468.6 148.1 468.6 148.9 468.5C149.7 468.5 150.6 468.5 151.4 468.4C152.2 468.4 153.1 468.4 153.9 468.3C154.7 468.3 155.6 468.3 156.4 468.2C157.2 468.2 158.1 468.2 158.9 468.1C159.7 468.1 160.6 468.1 161.4 468.0C162.2 468.0 163.1 468.0 163.9 467.9C164.7 467.9 165.6 467.9 166.4 467.8C167.2 467.8 168.1 467.8 168.9 467.7C169.7 467.7 170.6 467.7 171.4 467.6C172.2 467.6 173.1 467.6 173.9 467.6C174.7 467.5 175.6 467.5 176.4 467.5C177.2 467.5 178.1 467.4 178.9 467.4C179.7 467.4 180.5 467.4 181.4 467.4C182.2 467.4 183.0 467.3 183.9 467.3C184.7 467.3 185.5 467.3 186.4 467.3C187.2 467.3 188.0 467.3 188.9 467.3C189.7 467.3 190.5 467.3 191.4 467.3C192.2 467.3 193.0 467.3 193.9 467.3C194.7 467.3 195.5 467.3 196.4 467.3C197.2 467.4 198.0 467.4 198.9 467.4C199.7 467.4 200.5 467.4 201.4 467.4C202.2 467.4 203.0 467.5 203.9 467.5C204.7 467.5 205.5 467.5 206.4 467.6C207.2 467.6 208.0 467.6 208.9 467.6C209.7 467.7 210.5 467.7 211.4 467.7C212.2 467.7 213.0 467.8 213.8 467.8C214.7 467.8 215.5 467.9 216.3 467.9C217.2 467.9 218.0 467.9 218.8 468.0C219.7 468.0 220.5 468.0 221.3 468.1C222.2 468.1 223.0 468.2 223.8 468.2C224.7 468.2 225.5 468.3 226.3 468.3C227.2 468.3 228.0 468.4 228.8 468.4C229.7 468.4 230.5 468.5 231.3 468.5C232.2 468.6 233.0 468.6 233.8 468.6C234.7 468.7 235.5 468.7 236.3 468.7C237.2 468.8 238.0 468.8 238.8 468.8C239.7 468.9 240.5 468.9 241.3 468.9C242.2 469.0 243.0 469.0 243.8 469.0C244.7 469.0 245.5 469.1 246.3 469.1C247.1 469.1 248.0 469.1 248.8 469.2C249.6 469.2 250.5 469.2 251.3 469.2C252.1 469.2 253.0 469.3 253.8 469.3C254.6 469.3 255.5 469.3 256.3 469.3C257.1 469.3 258.0 469.3 258.8 469.3C259.6 469.3 260.5 469.3 261.3 469.3C262.1 469.3 263.4 469.3 263.8 469.3" stroke="#0000ff" stroke-dasharray="5.8 1.9 1.7 1.9" clip-path="url(#cc)"/>
</g>
<path d="M44.00 184.80L44.00 475.10M263.80 184.80L263.80 475.10M44.00 185.50L263.80 185.50M44.00 279.20L263.80 279.20M44.00 376.30L263.80 376.30M44.00 474.40L263.80 474.40" stroke="#000" stroke-width="1.40" fill="none" stroke-linecap="butt"/>
<path d="M44.00 185.50L44.00 189.10M44.00 279.20L44.00 275.60M44.00 279.20L44.00 282.80M44.00 376.30L44.00 372.70M44.00 376.30L44.00 379.90M44.00 474.40L44.00 478.00M65.98 185.50L65.98 187.70M65.98 279.20L65.98 277.00M65.98 279.20L65.98 281.40M65.98 376.30L65.98 374.10M65.98 376.30L65.98 378.50M65.98 474.40L65.98 476.60M87.96 185.50L87.96 189.10M87.96 279.20L87.96 275.60M87.96 279.20L87.96 282.80M87.96 376.30L87.96 372.70M87.96 376.30L87.96 379.90M87.96 474.40L87.96 478.00M109.94 185.50L109.94 187.70M109.94 279.20L109.94 277.00M109.94 279.20L109.94 281.40M109.94 376.30L109.94 374.10M109.94 376.30L109.94 378.50M109.94 474.40L109.94 476.60M131.92 185.50L131.92 189.10M131.92 279.20L131.92 275.60M131.92 279.20L131.92 282.80M131.92 376.30L131.92 372.70M131.92 376.30L131.92 379.90M131.92 474.40L131.92 478.00M153.90 185.50L153.90 187.70M153.90 279.20L153.90 277.00M153.90 279.20L153.90 281.40M153.90 376.30L153.90 374.10M153.90 376.30L153.90 378.50M153.90 474.40L153.90 476.60M175.88 185.50L175.88 189.10M175.88 279.20L175.88 275.60M175.88 279.20L175.88 282.80M175.88 376.30L175.88 372.70M175.88 376.30L175.88 379.90M175.88 474.40L175.88 478.00M197.86 185.50L197.86 187.70M197.86 279.20L197.86 277.00M197.86 279.20L197.86 281.40M197.86 376.30L197.86 374.10M197.86 376.30L197.86 378.50M197.86 474.40L197.86 476.60M219.84 185.50L219.84 189.10M219.84 279.20L219.84 275.60M219.84 279.20L219.84 282.80M219.84 376.30L219.84 372.70M219.84 376.30L219.84 379.90M219.84 474.40L219.84 478.00M241.82 185.50L241.82 187.70M241.82 279.20L241.82 277.00M241.82 279.20L241.82 281.40M241.82 376.30L241.82 374.10M241.82 376.30L241.82 378.50M241.82 474.40L241.82 476.60M263.80 185.50L263.80 189.10M263.80 279.20L263.80 275.60M263.80 279.20L263.80 282.80M263.80 376.30L263.80 372.70M263.80 376.30L263.80 379.90M263.80 474.40L263.80 478.00M40.40 279.20L44.00 279.20M263.80 279.20L260.20 279.20M40.40 241.60L44.00 241.60M263.80 241.60L260.20 241.60M40.40 204.00L44.00 204.00M263.80 204.00L260.20 204.00M41.80 260.40L44.00 260.40M263.80 260.40L261.60 260.40M41.80 222.80L44.00 222.80M263.80 222.80L261.60 222.80M41.80 185.50L44.00 185.50M40.40 373.90L44.00 373.90M263.80 373.90L260.20 373.90M40.40 338.95L44.00 338.95M263.80 338.95L260.20 338.95M40.40 304.00L44.00 304.00M263.80 304.00L260.20 304.00M41.80 356.42L44.00 356.42M263.80 356.42L261.60 356.42M41.80 321.48L44.00 321.48M263.80 321.48L261.60 321.48M41.80 286.52L44.00 286.52M263.80 286.52L261.60 286.52M40.40 474.40L44.00 474.40M263.80 474.40L260.20 474.40M40.40 446.03L44.00 446.03M263.80 446.03L260.20 446.03M40.40 417.67L44.00 417.67M263.80 417.67L260.20 417.67M40.40 389.30L44.00 389.30M263.80 389.30L260.20 389.30M41.80 460.22L44.00 460.22M263.80 460.22L261.60 460.22M41.80 431.85L44.00 431.85M263.80 431.85L261.60 431.85M41.80 403.48L44.00 403.48M263.80 403.48L261.60 403.48" stroke="#000" stroke-width="1.05" fill="none" stroke-linecap="butt"/>
<g font-size="9.9" text-anchor="end">
<text x="39.3" y="207.3">0.4</text>
<text x="39.3" y="244.9">0.2</text>
<text x="39.3" y="282.5">0.0</text>
<text x="39.3" y="306.7">0.10</text>
<text x="39.3" y="341.6">0.05</text>
<text x="39.3" y="376.6">0.00</text>
<text x="39.3" y="392.0">1.5</text>
<text x="39.3" y="420.4">1.0</text>
<text x="39.3" y="448.7">0.5</text>
<text x="39.3" y="477.1">0.0</text>
</g>
<g font-size="9.9" text-anchor="middle">
<text x="44.0" y="487.2">0</text>
<text x="88.0" y="487.2">30</text>
<text x="131.9" y="487.2">60</text>
<text x="175.9" y="487.2">90</text>
<text x="219.8" y="487.2">120</text>
<text x="263.8" y="487.2">150</text>
</g>
<g font-size="9.2">
<text transform="translate(47.7,194.6) scale(0.95,1.1)">(a)</text>
<text transform="translate(46.9,291.8) scale(0.95,1.1)">(b)</text>
<text transform="translate(49.2,390.3) scale(0.95,1.1)">(c)</text>
</g>
<g font-style="italic"><text x="146.0" y="494.7" font-size="11.5">&#969;</text><text x="152.7" y="499.6" font-size="7.2">M</text><text x="159.2" y="494.7" font-size="11.8">t</text></g>
<text transform="rotate(-90)" x="-239.30" y="12.60" font-size="10.80" font-style="italic">P</text>
<text transform="rotate(-90)" x="-232.20" y="17.70" font-size="6.20">1</text>
<text transform="rotate(-90)" x="-229.00" y="13.35" font-size="10.50">(</text>
<text transform="rotate(-90)" x="-224.80" y="12.60" font-size="10.80" font-style="italic">t</text>
<text transform="rotate(-90)" x="-221.60" y="13.35" font-size="10.50">)</text>
<text transform="rotate(-90)" x="-341.70" y="13.40" font-size="10.80" font-style="italic">P</text>
<text transform="rotate(-90)" x="-335.10" y="18.90" font-size="6.20">2</text>
<text transform="rotate(-90)" x="-332.10" y="14.20" font-size="10.50">(</text>
<text transform="rotate(-90)" x="-327.50" y="13.40" font-size="10.80" font-style="italic">t</text>
<text transform="rotate(-90)" x="-324.00" y="14.20" font-size="10.50">)</text>
<text transform="rotate(-90)" x="-445.00" y="17.20" font-size="11.80" font-style="italic">g</text>
<text transform="rotate(-90)" x="-438.60" y="10.80" font-size="7.00">(2)</text>
<text transform="rotate(-90)" x="-430.80" y="17.10" font-size="10.50">(</text>
<text transform="rotate(-90)" x="-427.30" y="16.90" font-size="10.80" font-style="italic">t</text>
<text transform="rotate(-90)" x="-423.70" y="17.10" font-size="10.50">)</text>
<g fill="none" stroke-width="1.45">
<path d="M182.0 293.8L204.6 293.8" stroke="#000"/>
<path d="M182.0 310.0L204.6 310.0" stroke="#ff0000" stroke-dasharray="5.1 3.9"/>
<path d="M182.0 325.6L204.6 325.6" stroke="#0000ff" stroke-dasharray="5.8 1.9 1.7 1.9"/>
<path d="M182.0 341.5L204.6 341.5" stroke="#008b8b" stroke-dasharray="2.6 1.6"/>
</g>
<g font-size="9.8">
<text x="207.3" y="297.5"><tspan font-style="italic">g</tspan><tspan font-size="5.6" dy="3.4" font-style="italic">0</tspan><tspan dy="-2.6" font-size="12.5">/</tspan><tspan dy="-0.8" font-size="9.8">&#969;</tspan><tspan font-size="6.4" dy="3.6" font-style="italic">M</tspan><tspan dy="-3.6" dx="-1.3"> = 0.01</tspan></text>
<text x="207.3" y="313.7"><tspan font-style="italic">g</tspan><tspan font-size="5.6" dy="3.4" font-style="italic">0</tspan><tspan dy="-2.6" font-size="12.5">/</tspan><tspan dy="-0.8" font-size="9.8">&#969;</tspan><tspan font-size="6.4" dy="3.6" font-style="italic">M</tspan><tspan dy="-3.6" dx="-1.3"> = 0.3</tspan></text>
<text x="207.3" y="329.3"><tspan font-style="italic">g</tspan><tspan font-size="5.6" dy="3.4" font-style="italic">0</tspan><tspan dy="-2.6" font-size="12.5">/</tspan><tspan dy="-0.8" font-size="9.8">&#969;</tspan><tspan font-size="6.4" dy="3.6" font-style="italic">M</tspan><tspan dy="-3.6" dx="-1.3"> = 0.6</tspan></text>
<text x="207.3" y="345.2"><tspan font-style="italic">g</tspan><tspan font-size="5.6" dy="3.4" font-style="italic">0</tspan><tspan dy="-2.6" font-size="12.5">/</tspan><tspan dy="-0.8" font-size="9.8">&#969;</tspan><tspan font-size="6.4" dy="3.6" font-style="italic">M</tspan><tspan dy="-3.6" dx="-1.3"> = 1</tspan></text>
</g>
</g></svg></body></html>
